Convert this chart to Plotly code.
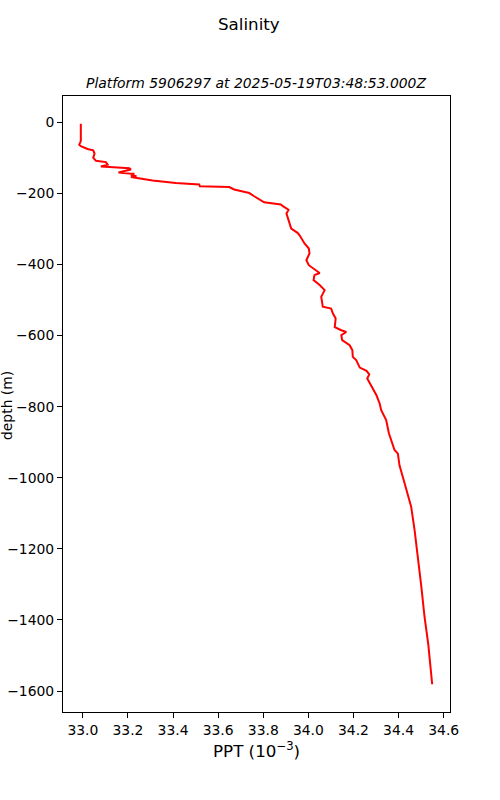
import plotly.graph_objects as go

depth = [-4, -53, -63, -67, -75, -79, -88, -100, -108, -112, -119, -124, -127, -129, -133,
         -141, -144, -145, -149, -152, -154, -159, -164, -171, -175, -180, -182, -189, -199,
         -208, -225, -231, -236, -246, -257, -285, -299, -311, -318, -341, -355, -369, -388,
         -402, -411, -424, -430, -444, -458, -472, -491, -519, -524, -538, -552, -576, -585,
         -590, -599, -613, -627, -641, -660, -669, -690, -699, -709, -721, -768, -791, -810,
         -838, -875, -922, -932, -965, -1016, -1082, -1147, -1222, -1307, -1391, -1470, -1581]
salinity = [32.991, 32.991, 32.984, 32.991, 33.021, 33.046, 33.052, 33.046, 33.058, 33.102,
            33.110, 33.080, 33.154, 33.206, 33.213, 33.158, 33.206, 33.228, 33.213, 33.238,
            33.213, 33.265, 33.309, 33.412, 33.516, 33.519, 33.649, 33.671, 33.738, 33.760,
            33.804, 33.878, 33.887, 33.912, 33.903, 33.917, 33.924, 33.952, 33.961, 33.983,
            34.002, 34.005, 33.991, 34.002, 34.020, 34.050, 34.027, 34.023, 34.050, 34.072,
            34.057, 34.064, 34.101, 34.109, 34.121, 34.117, 34.146, 34.168, 34.146, 34.150,
            34.183, 34.195, 34.197, 34.212, 34.228, 34.258, 34.270, 34.261, 34.302, 34.316,
            34.323, 34.345, 34.357, 34.382, 34.397, 34.404, 34.427, 34.456, 34.471, 34.486,
            34.501, 34.515, 34.532, 34.549]

x_ticks = [33.0, 33.2, 33.4, 33.6, 33.8, 34.0, 34.2, 34.4, 34.6]
y_ticks = [0, -200, -400, -600, -800, -1000, -1200, -1400, -1600]

suptitle = "Salinity"
subtitle = "Platform 5906297 at 2025-05-19T03:48:53.000Z"
xlabel = "PPT (10<sup>−3</sup>)"
ylabel = "depth (m)"

font = "DejaVu Sans"
W, H = 500, 800
L, R, T, B = 63, 50, 96, 88
PW, PH = W - L - R, H - T - B


def px(x):
    return (x - L) / PW


def py(y):
    return (H - B - y) / PH


fig = go.Figure()
fig.add_trace(go.Scatter(x=salinity, y=depth, mode="lines",
                         line=dict(color="red", width=2), showlegend=False))

axis_common = dict(showline=True, linecolor="black", linewidth=1, mirror=True,
                   ticks="outside", ticklen=5, tickwidth=1, tickcolor="black",
                   showgrid=False, zeroline=False, automargin=False,
                   tickfont=dict(family=font, size=13.9, color="black"))

fig.update_xaxes(range=[32.912, 34.628], tickvals=x_ticks,
                 ticktext=[f"{v:.1f}" for v in x_ticks], **axis_common)
fig.update_yaxes(range=[-1659, 74], tickvals=y_ticks,
                 ticktext=[str(v).replace("-", "−") for v in y_ticks], **axis_common)


def ann(text, x, y, size, angle=0):
    return dict(text=text, x=px(x), y=py(y), xref="paper", yref="paper",
                xanchor="center", yanchor="middle", showarrow=False, textangle=angle,
                font=dict(size=size, family=font, color="black"))


fig.update_layout(
    width=W, height=H,
    margin=dict(l=L, r=R, t=T, b=B, autoexpand=False),
    plot_bgcolor="white", paper_bgcolor="white",
    font=dict(family=font, color="black"),
    annotations=[
        ann(suptitle, 249, 24, 16.7),
        ann(f"<i>{subtitle}</i>", 256, 83, 13.9),
        ann(xlabel, 256, 750, 16.7),
        ann(ylabel, 7, 406, 13.9, -90),
    ],
)

fig.write_html("out.html", config={"displayModeBar": False},
               post_script="document.body.style.margin='0';document.body.style.padding='0';")
